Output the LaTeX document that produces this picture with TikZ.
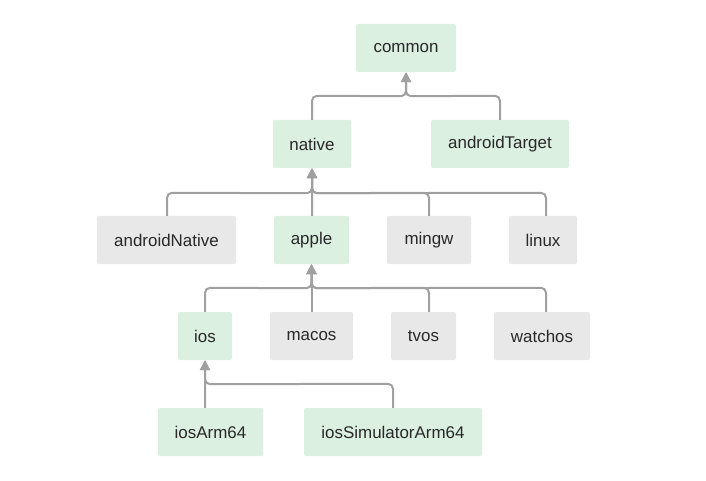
\documentclass[tikz,border=0pt]{standalone}
\usepackage{fontspec}
\setmainfont{Liberation Sans}
\usetikzlibrary{arrows.meta,calc}
\definecolor{grn}{RGB}{219,240,224}
\definecolor{gry}{RGB}{232,232,232}
\definecolor{txt}{RGB}{40,40,40}
\definecolor{ln}{RGB}{160,160,160}
\tikzset{
  box/.style={rectangle, rounded corners=2bp, minimum height=48bp, inner sep=0pt, text=txt, font=\fontsize{17}{19}\selectfont},
  gbox/.style={box, fill=grn},
  hbox/.style={box, fill=gry},
  link/.style={draw=ln, line width=2bp, rounded corners=5bp, -{Triangle[width=10bp,length=10bp]}}
}
\begin{document}
\begin{tikzpicture}[x=1bp,y=-1bp]
\useasboundingbox (0,0) rectangle (706,481);
\node[gbox, minimum width=100bp] (common) at (406,48) {common};
\node[gbox, minimum width=78bp] (native) at (312,144) {native};
\node[gbox, minimum width=138bp] (atarget) at (500,144) {androidTarget};
\node[hbox, minimum width=139bp] (anative) at (166.5,240) {androidNative};
\node[gbox, minimum width=75bp] (apple) at (311.5,240) {apple};
\node[hbox, minimum width=84bp] (mingw) at (429,240) {mingw};
\node[hbox, minimum width=68bp] (linux) at (543,240) {linux};
\node[gbox, minimum width=54bp] (ios) at (205,336) {ios};
\node[hbox, minimum width=83bp] (macos) at (311.5,336) {macos};
\node[hbox, minimum width=65bp] (tvos) at (423.5,336) {tvos};
\node[hbox, minimum width=96bp] (watchos) at (542,336) {watchos};
\node[gbox, minimum width=105bp] (iarm) at (210.5,432) {iosArm64};
\node[gbox, minimum width=178bp] (isim) at (393,432) {iosSimulatorArm64};

% level 1
\draw[link] (native.north) -- ++(0,-24) -- ($(common.south)+(0,24)$) -- (common.south);
\draw[link] (atarget.north) -- ++(0,-24) -- ($(common.south)+(0,24)$) -- (common.south);
% level 2
\draw[link] ([xshift=0.5bp]anative.north) -- ++(0,-23) -- ($(native.south)+(0,25)$) -- (native.south);
\draw[link] ([xshift=0.5bp]apple.north) -- (native.south);
\draw[link] (mingw.north) -- ++(0,-23) -- ($(native.south)+(0,25)$) -- (native.south);
\draw[link] ([xshift=3bp]linux.north) -- ++(0,-23) -- ($(native.south)+(0,25)$) -- (native.south);
% level 3
\draw[link] (ios.north) -- ++(0,-24) -- ($(apple.south)+(0,24)$) -- (apple.south);
\draw[link] (macos.north) -- (apple.south);
\draw[link] ([xshift=5.5bp]tvos.north) -- ++(0,-24) -- ($(apple.south)+(0,24)$) -- (apple.south);
\draw[link] ([xshift=4bp]watchos.north) -- ++(0,-24) -- ($(apple.south)+(0,24)$) -- (apple.south);
% level 4
\draw[link] ([xshift=-5.5bp]iarm.north) -- (ios.south);
\draw[link] (isim.north) -- ++(0,-24) -- ($(ios.south)+(0,24)$) -- (ios.south);
\end{tikzpicture}
\end{document}
